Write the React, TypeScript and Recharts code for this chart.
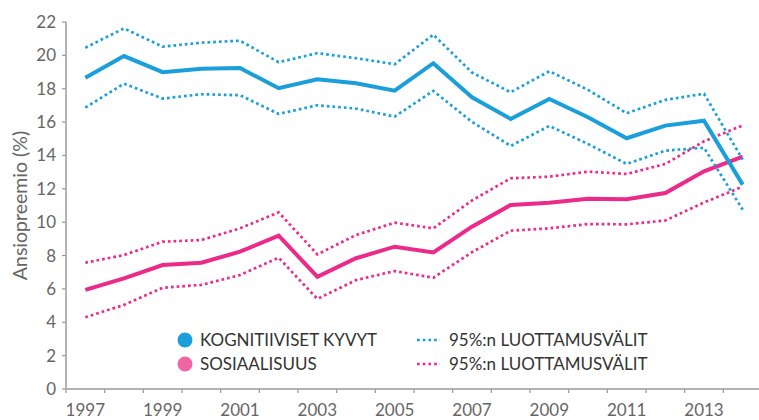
import React from 'react';
import { LineChart, Line, XAxis, YAxis, Legend } from 'recharts';

const years = [1997, 1998, 1999, 2000, 2001, 2002, 2003, 2004, 2005, 2006, 2007, 2008, 2009, 2010, 2011, 2012, 2013, 2014];
const cognitive = [18.66, 19.96, 18.99, 19.2, 19.24, 18.03, 18.57, 18.33, 17.88, 19.53, 17.49, 16.19, 17.39, 16.29, 15.03, 15.79, 16.08, 12.25];
const cognitiveHigh = [20.46, 21.62, 20.52, 20.76, 20.88, 19.59, 20.13, 19.83, 19.47, 21.24, 18.97, 17.79, 19.05, 17.93, 16.53, 17.33, 17.7, 13.75];
const cognitiveLow = [16.87, 18.3, 17.41, 17.67, 17.61, 16.49, 17.01, 16.81, 16.33, 17.87, 16.01, 14.57, 15.77, 14.69, 13.49, 14.29, 14.46, 10.75];
const social = [5.94, 6.63, 7.43, 7.57, 8.23, 9.19, 6.73, 7.84, 8.53, 8.19, 9.73, 11.03, 11.17, 11.41, 11.37, 11.75, 13.05, 13.93];
const socialHigh = [7.57, 8.03, 8.83, 8.93, 9.63, 10.59, 8.07, 9.23, 9.97, 9.63, 11.3, 12.63, 12.73, 13.03, 12.89, 13.49, 14.85, 15.8];
const socialLow = [4.3, 5.04, 6.07, 6.24, 6.83, 7.87, 5.4, 6.53, 7.07, 6.67, 8.2, 9.49, 9.63, 9.89, 9.87, 10.1, 11.18, 12.13];

const yTicks = [0, 2, 4, 6, 8, 10, 12, 14, 16, 18, 20, 22];
const labelYears = [1997, 1999, 2001, 2003, 2005, 2007, 2009, 2011, 2013];
const seriesNames = ['KOGNITIIVISET KYVYT', 'SOSIAALISUUS', '95%:n LUOTTAMUSVÄLIT'];

const data = years.map((year, i) => ({
  year,
  cognitive: cognitive[i],
  cognitiveHigh: cognitiveHigh[i],
  cognitiveLow: cognitiveLow[i],
  social: social[i],
  socialHigh: socialHigh[i],
  socialLow: socialLow[i],
}));

// tick marks sit on the year boundaries, labels in the middle of each year
const boundaries = [...years.map((y) => y - 0.5), years[years.length - 1] + 0.5];

const BLUE = '#1b9fda';
const PINK = '#ec2a8a';
const FONT = 'Lato, "Open Sans", sans-serif';
const HALF_YEAR = 696 / 36;

const YearTick = (props: any) => {
  const { x, y, payload } = props;
  const year = payload.value + 0.5;
  if (!labelYears.includes(year)) return null;
  return (
    <text x={x + HALF_YEAR} y={y} dy={21} textAnchor="middle" fill="#666" fontSize={17} fontFamily={FONT}>
      {year}
    </text>
  );
};

const renderLegend = () => (
  <svg width={780} height={420} style={{ fontFamily: FONT }}>
    <circle cx={185} cy={340} r={7.5} fill={BLUE} />
    <text x={200} y={346} fontSize={17} fill="#333">{seriesNames[0]}</text>
    <circle cx={185} cy={364} r={7.5} fill="#f066a4" />
    <text x={200} y={370} fontSize={17} fill="#333">{seriesNames[1]}</text>
    <line x1={417} x2={440} y1={340} y2={340} stroke={BLUE} strokeWidth={2.7} strokeDasharray="2.7 3" />
    <text x={449} y={346} fontSize={17} fill="#333">{seriesNames[2]}</text>
    <line x1={417} x2={440} y1={364} y2={364} stroke={PINK} strokeWidth={2.7} strokeDasharray="2.7 3" />
    <text x={449} y={370} fontSize={17} fill="#333">{seriesNames[2]}</text>
  </svg>
);

export default function App() {
  return (
    <div style={{ position: 'absolute', left: 0, top: 0, width: 759, height: 420, overflow: 'hidden', background: '#fff' }}>
      <LineChart width={780} height={420} data={data} margin={{ top: 22, right: 18, left: 0, bottom: 0 }}>
        <XAxis
          dataKey="year"
          type="number"
          domain={[1996.5, 2014.5]}
          ticks={boundaries}
          interval={0}
          height={31}
          tickSize={4}
          tickMargin={2}
          tick={<YearTick />}
          axisLine={{ stroke: '#9a9a9a', strokeWidth: 1.5 }}
          tickLine={{ stroke: '#9a9a9a', strokeWidth: 1.2 }}
        />
        <YAxis
          domain={[0, 22]}
          ticks={yTicks}
          interval={0}
          width={66}
          tickSize={4}
          tickMargin={6}
          tick={{ fill: '#666', fontSize: 17, fontFamily: FONT }}
          axisLine={{ stroke: '#9a9a9a', strokeWidth: 1.5 }}
          tickLine={{ stroke: '#9a9a9a', strokeWidth: 1.2 }}
          label={{
            value: 'Ansiopreemio (%)',
            angle: -90,
            position: 'center',
            dx: -13,
            style: { fill: '#666', fontSize: 19.5, fontFamily: FONT },
          }}
        />
        <Legend layout="vertical" align="center" verticalAlign="middle" content={renderLegend}
          wrapperStyle={{ left: 0, top: 0, width: 780, height: 420, pointerEvents: 'none' }} />
        <Line dataKey="socialHigh" stroke={PINK} strokeWidth={2.7} strokeDasharray="2.7 3" dot={false} isAnimationActive={false} />
        <Line dataKey="socialLow" stroke={PINK} strokeWidth={2.7} strokeDasharray="2.7 3" dot={false} isAnimationActive={false} />
        <Line dataKey="social" stroke={PINK} strokeWidth={4} dot={false} isAnimationActive={false} />
        <Line dataKey="cognitiveHigh" stroke={BLUE} strokeWidth={2.7} strokeDasharray="2.7 3" dot={false} isAnimationActive={false} />
        <Line dataKey="cognitiveLow" stroke={BLUE} strokeWidth={2.7} strokeDasharray="2.7 3" dot={false} isAnimationActive={false} />
        <Line dataKey="cognitive" stroke={BLUE} strokeWidth={4} dot={false} isAnimationActive={false} />
      </LineChart>
    </div>
  );
}
